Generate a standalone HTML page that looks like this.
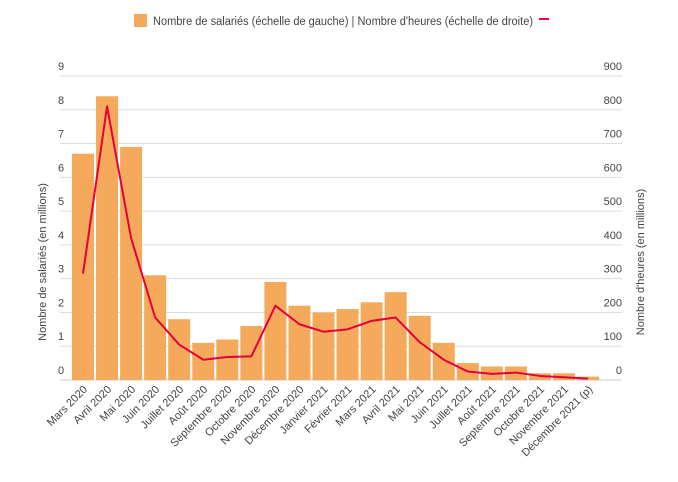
<!DOCTYPE html>
<html><head><meta charset="utf-8"><style>
body{margin:0;background:#fff;font-family:"Liberation Sans",sans-serif;}
svg text{font-family:"Liberation Sans",sans-serif;fill:#444;}
</style></head><body>
<svg id="chart" width="678" height="477" viewBox="0 0 678 477">
<g>
<rect x="134" y="14" width="13" height="13" fill="#F5A95A"/>
<text x="153" y="25" font-size="11.5" textLength="380" lengthAdjust="spacingAndGlyphs">Nombre de salariés (échelle de gauche) |  Nombre d'heures (échelle de droite)</text>
<rect x="539" y="18" width="10" height="2" fill="#E4003B"/>
</g>
<g id="grid"></g><g id="bars"></g><g id="line"></g><g id="labels"></g>
<text transform="translate(46,262) rotate(-90)" text-anchor="middle" font-size="11">Nombre de salariés (en millions)</text>
<text transform="translate(644,262) rotate(-90)" text-anchor="middle" font-size="11">Nombre d'heures (en millions)</text>
</svg>
<script>
const categories=["Mars 2020","Avril 2020","Mai 2020","Juin 2020","Juillet 2020","Août 2020","Septembre 2020","Octobre 2020","Novembre 2020","Décembre 2020","Janvier 2021","Février 2021","Mars 2021","Avril 2021","Mai 2021","Juin 2021","Juillet 2021","Août 2021","Septembre 2021","Octobre 2021","Novembre 2021","Décembre 2021 (p)"];
const salaries=[6.7,8.4,6.9,3.1,1.8,1.1,1.2,1.6,2.9,2.2,2.0,2.1,2.3,2.6,1.9,1.1,0.5,0.4,0.4,0.2,0.2,0.1];
const heures=[315,810,420,185,105,60,68,70,220,165,143,150,175,185,112,60,25,18,22,12,8,4];
const leftTicks=[0,1,2,3,4,5,6,7,8,9];
const rightTicks=[0,100,200,300,400,500,600,700,800,900];
const NS="http://www.w3.org/2000/svg";
const y0=380,y9=76,x0=72,step=24.05,bw=22;
const yL=v=>y0-(v/9)*(y0-y9);
const yR=v=>y0-(v/900)*(y0-y9);
const xC=i=>x0+i*step+bw/2;
function mk(t,a,p){const e=document.createElementNS(NS,t);for(const k in a)e.setAttribute(k,a[k]);document.getElementById(p).appendChild(e);return e;}
leftTicks.forEach((v,i)=>{
const g=mk("line",{x1:60,x2:622,y1:yL(v),y2:yL(v),stroke:v===0?"#ccc":"#ddd","stroke-width":1},"grid");


const t=mk("text",{x:58,y:yL(v)-6,"font-size":11},"grid");t.textContent=v;


});
rightTicks.forEach(v=>{
const t=mk("text",{x:622,y:yR(v)-6,"font-size":11,"text-anchor":"end"},"grid");t.textContent=v;


});
salaries.forEach((v,i)=>{
const r=mk("rect",{x:xC(i)-bw/2,y:yL(v),width:bw,height:y0-yL(v),fill:"#F5A95A"},"bars");


});
const pts=heures.map((v,i)=>xC(i)+","+yR(v)).join(" ");
const pl=mk("polyline",{points:pts,fill:"none",stroke:"#E4003B","stroke-width":2,"stroke-linejoin":"round"},"line");


categories.forEach((c,i)=>{
const x=xC(i)+5,y=390;
const t=mk("text",{x:x,y:y,"font-size":11,"text-anchor":"end",transform:`rotate(-45 ${x} ${y})`},"labels");
t.textContent=c;


});
</script>
</body></html>
